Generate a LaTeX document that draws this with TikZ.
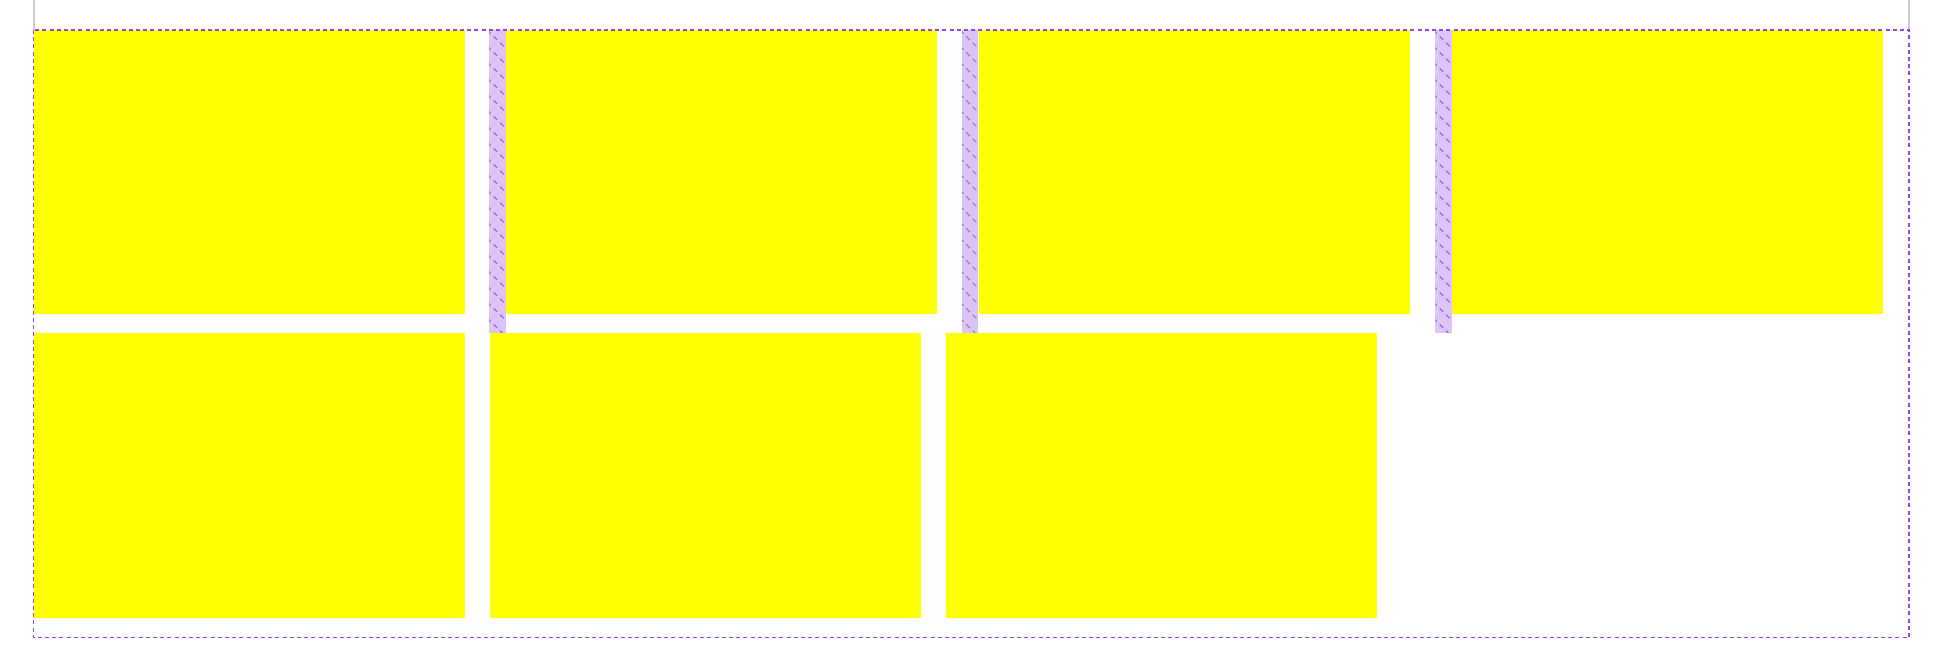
\documentclass[tikz,border=0pt]{standalone}
\usetikzlibrary{calc}
\definecolor{boxyellow}{HTML}{FFFF00}
\definecolor{stripefill}{HTML}{DCC5F5}
\definecolor{hatchcol}{HTML}{9B55E3}
\definecolor{framecol}{HTML}{8F45E6}
\definecolor{guidegray}{HTML}{CCCCCC}
\tikzset{
  px/.style={x=0.5pt,y=-0.5pt},
  itembox/.style={fill=boxyellow,draw=none},
  gapstripe/.style={fill=stripefill,draw=none},
  hatchline/.style={draw=hatchcol,line width=0.5pt,dash pattern=on 2.5pt off 2pt},
  frameline/.style={draw=framecol,line width=0.75pt,dash pattern=on 2pt off 1.6pt},
  guideline/.style={draw=guidegray,line width=0.8pt},
}
\begin{document}
\begin{tikzpicture}[px]
\useasboundingbox (0,0) rectangle (1940,671);
\fill[white] (0,0) rectangle (1940,671);
% guide lines
\coordinate (gl1) at (33.8,0); \coordinate (gl2) at (33.8,30);
\coordinate (gr1) at (1908.8,0); \coordinate (gr2) at (1908.8,30);
\draw[guideline] (gl1) -- (gl2);
\draw[guideline] (gr1) -- (gr2);
% row 1 boxes
\foreach \x/\n in {33.5/a,505.7/b,979.3/c,1452/d}{
  \path[itembox] (\x,30) rectangle ++(431,283.5);
}
% row 2 boxes
\foreach \x in {33.5,490,946}{
  \path[itembox] (\x,332.7) rectangle ++(431,285);
}
% gap stripes with hatching
\foreach \x in {489.3,962,1435.3}{
  \path[gapstripe] (\x,30) rectangle ++(16.4,302.7);
  \begin{scope}
    \clip (\x,30) rectangle ++(16.4,302.7);
    \foreach \k in {-2,...,20}{
      \draw[hatchline] (\x-2,30+\k*16) -- ++(22,22);
    }
  \end{scope}
}
% dashed frame
\draw[frameline] (33.5,30) rectangle (1909,637.7);
\end{tikzpicture}
\end{document}
